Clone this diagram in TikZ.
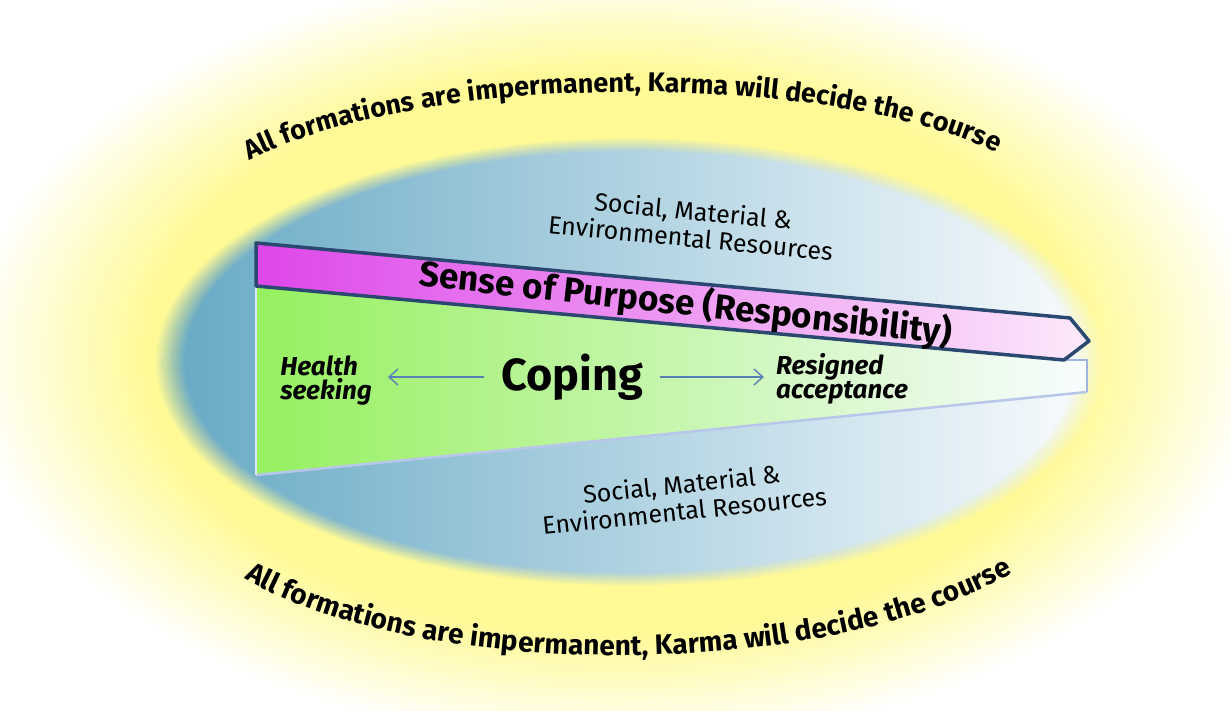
\documentclass[tikz,border=0pt]{standalone}
\usepackage{fontspec}
\setmainfont{Fira Sans}
\usetikzlibrary{decorations.text,arrows.meta}

\definecolor{glowyellow}{RGB}{255,250,150}
\definecolor{poolblue}{RGB}{106,171,198}
\definecolor{poolwhite}{RGB}{246,250,253}
\definecolor{magentaL}{RGB}{222,70,234}
\definecolor{magentaM}{RGB}{247,172,240}
\definecolor{magentaR}{RGB}{253,234,251}
\definecolor{bannerline}{RGB}{42,72,112}
\definecolor{greenL}{RGB}{150,240,95}
\definecolor{greenM}{RGB}{205,252,172}
\definecolor{greenR}{RGB}{248,252,255}
\definecolor{rimblue}{RGB}{160,180,225}
\definecolor{rimpale}{RGB}{220,232,242}
\definecolor{flowblue}{RGB}{88,128,182}

\tikzset{
  banner/.style={draw=bannerline, line width=3.5pt, line join=round,
    left color=magentaL, middle color=magentaM, right color=magentaR},
  wedge/.style={left color=greenL, middle color=greenM, right color=greenR},
  pool/.style={left color=poolblue, middle color=poolblue!32!white, right color=poolwhite},
  flow/.style={draw=flowblue, line width=1.4pt,
    -{Straight Barb[length=9pt,width=16pt,line width=1.4pt]}},
  pole/.style={font=\fontsize{26}{24}\selectfont\bfseries\itshape, align=left, inner sep=0pt},
  resources/.style={font=\fontsize{25}{27}\selectfont, align=center, inner sep=0pt},
  motto/.style={decorate, decoration={text along path, text align=center,
    text={|\fontsize{#1}{30}\selectfont\bfseries|All formations are impermanent, Karma will decide the course}}}
}

\begin{document}
\begin{tikzpicture}[x=1pt,y=-1pt]
\useasboundingbox (0,0) rectangle (1231,711);
\fill[white] (0,0) rectangle (1231,711);

% yellow halo: nested ellipses ramping from white to yellow
\foreach \k in {0,...,40} {
  \pgfmathsetmacro\s{1-0.28*\k/40}
  \pgfmathsetmacro\p{2.5*\k}
  \pgfmathsetmacro\rx{650*\s}
  \pgfmathsetmacro\ry{390*\s}
  \fill[glowyellow!\p!white] (615,355) ellipse [x radius=\rx, y radius=\ry];
}

% inner pool with a soft rim: each layer adds coverage so the rim ramps linearly
\foreach \k in {1,...,14} {
  \pgfmathsetmacro\s{1-0.06*(\k-1)/13}
  \pgfmathsetmacro\a{1/(15-\k)}
  \pgfmathsetmacro\rx{474*\s}
  \pgfmathsetmacro\ry{224*\s}
  \shade[pool, fill opacity=\a] (630,362) ellipse [x radius=\rx, y radius=\ry];
}

% coping wedge
\coordinate (wTL) at (256,286);
\coordinate (wTM) at (1064,360);
\coordinate (wTR) at (1087,360);
\coordinate (wBR) at (1087,392);
\coordinate (wBL) at (256,475);
\shade[wedge] (wTL) -- (wTM) -- (wTR) -- (wBR) -- (wBL) -- cycle;
\draw[rimblue, line width=2.5pt] (wTM) -- (wTR) -- (wBR);
\draw[rimblue!75!white, line width=2.5pt] (wBR) -- (wBL);
\draw[rimpale, line width=2.5pt] (wBL) -- (wTL);

% sense of purpose banner
\coordinate (bTL) at (256,243);
\coordinate (bTR) at (1070,318);
\coordinate (bTip) at (1089,341);
\path[banner] (bTL) -- (bTR) -- (bTip) -- (wTM) -- (wTL) -- cycle;
\node[rotate=-6.3, font=\fontsize{35}{40}\selectfont\bfseries] (purpose) at (686,304)
  {Sense of Purpose (Responsibility)};

% coping and its two poles
\node[font=\fontsize{45}{50}\selectfont\bfseries] (coping) at (572,377) {Coping};
\node[pole] (health) at (326,381) {Health\\seeking};
\node[pole] (resigned) at (842,379) {Resigned\\acceptance};
\draw[flow] ([xshift=-14pt]coping.west) -- ([xshift=16pt]coping.west -| health.east);
\draw[flow] ([xshift=14pt]coping.east) -- ([xshift=-12pt]coping.east -| resigned.west);

% resources
\node[resources, rotate=-5.5] (restop) at (692,224)
  {Social, Material \&\\Environmental Resources};
\node[resources, rotate=6] (resbottom) at (683,497)
  {Social, Material \&\\Environmental Resources};

% arched mottos
\path[motto=27] (246,162) .. controls (420,70) and (830,70) .. (999,154);
\path[motto=28] (224,566) .. controls (400,686) and (845,686) .. (1032,561);
\end{tikzpicture}
\end{document}
